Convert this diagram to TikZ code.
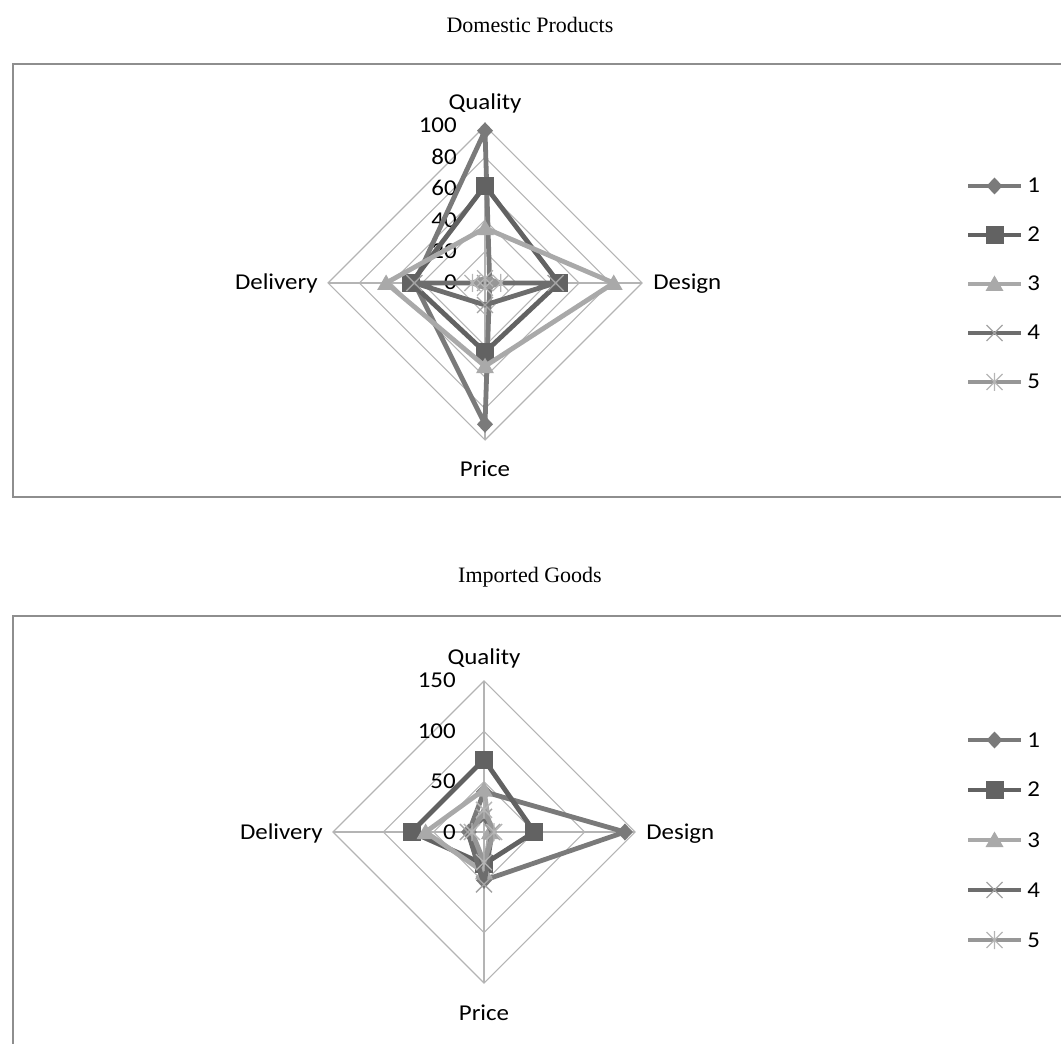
\documentclass[tikz,border=0pt]{standalone}
\usepackage{graphicx}
\usepackage{fontspec}
\setmainfont{Liberation Serif}
\newfontfamily\chartfont{Carlito}

% greys of the frame, the grid and the five series
\definecolor{gridgray}{HTML}{B4B4B4}
\definecolor{framegray}{HTML}{8E8E8E}
\definecolor{serA}{HTML}{7A7A7A}
\definecolor{serB}{HTML}{626262}
\definecolor{serC}{HTML}{A9A9A9}
\definecolor{serD}{HTML}{6D6D6D}
\definecolor{serDm}{HTML}{A3A3A3}
\definecolor{serE}{HTML}{979797}
\definecolor{serEm}{HTML}{B5B5B5}

% the chart lettering is set a little wide
\newcommand\wide[1]{\scalebox{1.1}[1]{#1}}

% one closed series polygon with its markers (Quality, Design, Price, Delivery)
\newcommand\radarline[6]{%
  \draw[serline, draw=#1] ({\cx},{\cy-(#3)*\k}) -- ({\cx+(#4)*\k},{\cy})
     -- ({\cx},{\cy+(#5)*\k}) -- ({\cx-(#6)*\k},{\cy}) -- cycle;
  \path ({\cx},{\cy-(#3)*\k}) pic{#2} ({\cx+(#4)*\k},{\cy}) pic{#2}
        ({\cx},{\cy+(#5)*\k}) pic{#2} ({\cx-(#6)*\k},{\cy}) pic{#2};
}

% rings and spokes of a radar grid
\newcommand\radargrid[1]{%
  \foreach \v in {#1}{
    \draw[gridline] ({\cx},{\cy-\v*\k}) -- ({\cx+\v*\k},{\cy})
       -- ({\cx},{\cy+\v*\k}) -- ({\cx-\v*\k},{\cy}) -- cycle;
  }
  \draw[gridline] ({\cx},{\cy-\R}) -- ({\cx},{\cy+\R})
                  ({\cx-\R},{\cy}) -- ({\cx+\R},{\cy});
}

% legend entry: line, marker, number
\newcommand\legendrow[4]{%
  \draw[serline, draw=#1] (968,#3) -- (1021,#3);
  \path (994.5,#3) pic{#2};
  \node[chart, anchor=base west] at (1027,#3+7) {\wide{#4}};
}

\begin{document}
\begin{tikzpicture}[x=0.75pt,y=-0.75pt,
  chart/.style={font=\chartfont\fontsize{17}{19}\selectfont, text=black, inner sep=0pt},
  charttitle/.style={font=\fontsize{16.5}{18}\selectfont, text=black, inner sep=0pt},
  gridline/.style={draw=gridgray, line width=0.8pt},
  framebox/.style={draw=framegray, line width=1.5pt},
  serline/.style={line width=3.6pt, line join=round},
  mkdiamond/.pic={\fill[serA] (-8,0) -- (0,-8.5) -- (8,0) -- (0,8.5) -- cycle;},
  mksquare/.pic={\fill[serB] (-9,-9) rectangle (9,9);},
  mktriangle/.pic={\fill[serC] (-9,7) -- (9,7) -- (0,-8.5) -- cycle;},
  mkcross/.pic={\draw[serDm, line width=1pt] (-8,-8) -- (8,8) (-8,8) -- (8,-8);},
  mkstar/.pic={\draw[serEm, line width=1pt] (-8,-8) -- (8,8) (-8,8) -- (8,-8) (0,-9) -- (0,9);},
]
\useasboundingbox (0,0) rectangle (1061,1044);

% ---------------- Domestic Products ----------------
\node[charttitle, anchor=base] (t1) at (530,33) {Domestic Products};
\draw[framebox] (1075,64) -- (12.5,64) -- (12.5,497) -- (1075,497);

\def\cx{485}\def\cy{283}\def\R{157}\def\k{1.57}
\radargrid{20,40,60,80,100}
\foreach \v in {0,20,40,60,80,100}
  \node[chart, anchor=base east] at (457,{\cy-\v*\k+7}) {\wide{\v}};
\node[chart, anchor=base] (q1) at (\cx,{\cy-\R-16}) {\wide{Quality}};
\node[chart, anchor=base west] (d1) at ({\cx+\R+11},{\cy+7}) {\wide{Design}};
\node[chart, anchor=base] (p1) at (\cx,{\cy+\R+37}) {\wide{Price}};
\node[chart, anchor=base east] (l1) at ({\cx-\R-10},{\cy+7}) {\wide{Delivery}};

\radarline{serA}{mkdiamond}{97}{3}{90}{45}
\radarline{serB}{mksquare}{62}{47}{44}{47}
\radarline{serC}{mktriangle}{35}{82}{53}{63}
\radarline{serD}{mkcross}{0}{45}{14}{45}
\radarline{serE}{mkstar}{3}{10}{3}{8}

\legendrow{serA}{mkdiamond}{186}{1}
\legendrow{serB}{mksquare}{235}{2}
\legendrow{serC}{mktriangle}{284}{3}
\legendrow{serD}{mkcross}{333}{4}
\legendrow{serE}{mkstar}{382}{5}

% ---------------- Imported Goods ----------------
\node[charttitle, anchor=base] (t2) at (530,583) {Imported Goods};
\draw[framebox] (1075,616) -- (12.5,616) -- (12.5,1060);

\def\cx{484}\def\cy{832}\def\R{151}\def\k{1.00667}
\radargrid{50,100,150}
\foreach \v in {0,50,100,150}
  \node[chart, anchor=base east] at (456,{\cy-\v*\k+7}) {\wide{\v}};
\node[chart, anchor=base] (q2) at (\cx,{\cy-\R-16}) {\wide{Quality}};
\node[chart, anchor=base west] (d2) at ({\cx+\R+11},{\cy+7}) {\wide{Design}};
\node[chart, anchor=base] (p2) at (\cx,{\cy+\R+37}) {\wide{Price}};
\node[chart, anchor=base east] (l2) at ({\cx-\R-10},{\cy+7}) {\wide{Delivery}};

\radarline{serA}{mkdiamond}{40}{140}{48}{15}
\radarline{serB}{mksquare}{72}{50}{32}{72}
\radarline{serC}{mktriangle}{42}{6}{40}{58}
\radarline{serD}{mkcross}{15}{8}{52}{16}
\radarline{serE}{mkstar}{22}{10}{30}{12}

\legendrow{serA}{mkdiamond}{740}{1}
\legendrow{serB}{mksquare}{790}{2}
\legendrow{serC}{mktriangle}{840}{3}
\legendrow{serD}{mkcross}{890}{4}
\legendrow{serE}{mkstar}{940}{5}
\end{tikzpicture}
\end{document}
